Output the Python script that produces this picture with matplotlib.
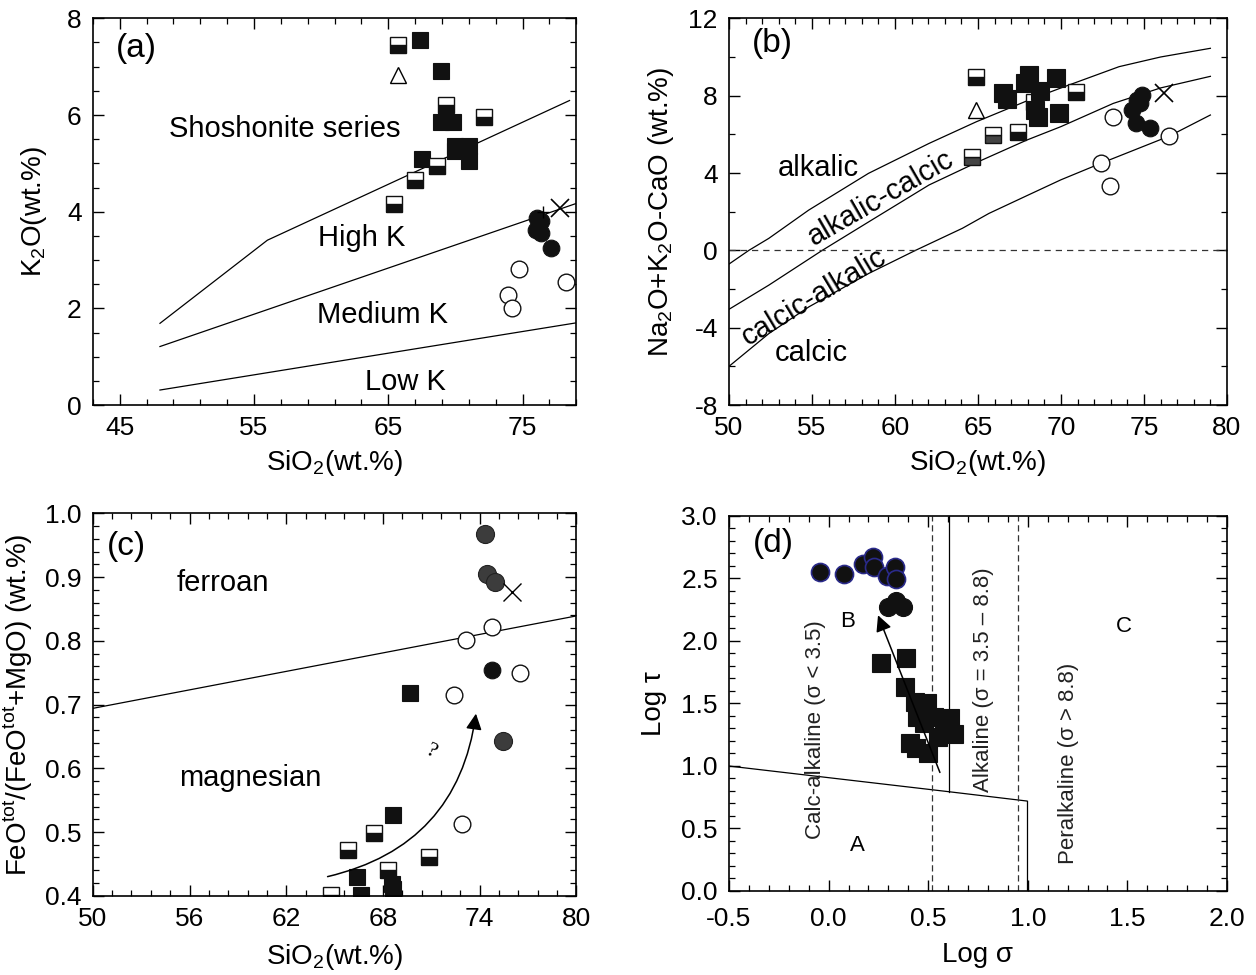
import matplotlib
matplotlib.use('Agg')
import numpy as np
import matplotlib.pyplot as plt
from matplotlib.ticker import FixedLocator, MultipleLocator, FormatStrFormatter

plt.rcParams['font.family'] = ['Liberation Sans', 'DejaVu Sans']
plt.rcParams['axes.unicode_minus'] = False
plt.rcParams['font.size'] = 19

# ---------------- (a) K2O vs SiO2 ----------------
a_half_x = [65.7, 69.3, 72.1, 67.0, 65.4, 68.6]
a_half_y = [7.45, 6.2, 5.95, 4.65, 4.15, 4.95]
a_sq_x = [67.4, 68.9, 68.9, 69.8, 70.0, 70.0, 71.0, 71.0, 67.5]
a_sq_y = [7.55, 6.9, 5.85, 5.85, 5.35, 5.25, 5.35, 5.05, 5.1]
a_tri_x, a_tri_y = [65.7], [6.82]
a_ci_x = [76.1, 76.4, 76.0, 76.4, 77.1]
a_ci_y = [3.86, 3.8, 3.62, 3.55, 3.24]
a_oc_x = [74.7, 73.9, 74.25, 78.2]
a_oc_y = [2.81, 2.28, 2.0, 2.55]
a_x_x, a_x_y = [77.8], [4.07]
a_plus_x, a_plus_y = [76.55], [4.0]

shosh_x = [48, 56, 78.5]
shosh_y = [1.69, 3.41, 6.30]
highk_x = [48, 79]
highk_y = [1.21, 4.17]
lowk_x = [48, 79]
lowk_y = [0.31, 1.70]

# ---------------- (b) MALI vs SiO2 ----------------
b_half_x = [64.88, 70.9, 67.43, 68.35]
b_half_y = [8.95, 8.2, 6.13, 7.69]
b_halfg_x = [65.89, 64.62]
b_halfg_y = [5.96, 4.84]
b_sq_x = [66.49, 66.73, 68.05, 67.85, 68.71, 69.71, 68.43, 68.63, 69.9]
b_sq_y = [8.15, 7.81, 9.07, 8.67, 8.25, 8.90, 7.26, 6.88, 7.09]
b_tri_x, b_tri_y = [64.88], [7.28]
b_ci_x = [74.87, 74.6, 74.27, 74.75, 74.5, 75.35]
b_ci_y = [8.03, 7.78, 7.26, 7.6, 6.57, 6.31]
b_oc_x = [73.13, 72.41, 72.94, 76.5]
b_oc_y = [6.91, 4.5, 3.33, 5.91]
b_x_x, b_x_y = [76.19], [8.16]

c1_x = [50, 51.2, 52.4, 54.8, 58.4, 62.05, 64.9, 68, 70, 73.5, 76, 79]
c1_y = [-0.71, 0.0, 0.62, 2.08, 3.98, 5.53, 6.65, 7.75, 8.4, 9.5, 10.0, 10.45]
c2_x = [50, 52.4, 55.62, 58.43, 62.05, 65.06, 67.93, 70, 73.15, 76, 79]
c2_y = [-3.05, -1.8, 0.0, 1.48, 3.38, 4.6, 5.7, 6.4, 7.6, 8.4, 9.0]
c3_x = [50, 52.41, 54.82, 58.43, 61.24, 64.06, 65.66, 68, 70, 72.4, 76.5, 79]
c3_y = [-6.0, -4.3, -2.92, -1.19, 0.0, 1.14, 1.91, 2.85, 3.65, 4.5, 5.9, 7.0]

# ---------------- (c) Fe-number vs SiO2 ----------------
c_sq_x = [69.66, 68.6, 66.37, 66.67, 68.54, 68.6]
c_sq_y = [0.7175, 0.527, 0.43, 0.401, 0.419, 0.411]
c_half_x = [65.82, 67.42, 68.29, 70.86, 64.8]
c_half_y = [0.472, 0.498, 0.44, 0.46, 0.401]
c_gci_x = [74.35, 74.47, 74.97, 75.47]
c_gci_y = [0.968, 0.905, 0.893, 0.642]
c_ci_x, c_ci_y = [74.77], [0.754]
c_oc_x = [73.15, 74.77, 76.51, 72.4, 72.9]
c_oc_y = [0.801, 0.822, 0.749, 0.715, 0.5125]
c_x_x, c_x_y = [76.0], [0.877]
fe_line_x = [50, 80]
fe_line_y = [0.694, 0.839]
c_arrow_start = (64.4, 0.429)
c_arrow_end = (73.8, 0.69)

# ---------------- (d) Log tau vs Log sigma ----------------
d_sq_x = [0.263, 0.388, 0.384, 0.432, 0.492, 0.444, 0.528, 0.478, 0.578, 0.608,
          0.628, 0.548, 0.408, 0.438, 0.498]
d_sq_y = [1.824, 1.859, 1.632, 1.512, 1.499, 1.392, 1.392, 1.339, 1.352, 1.379,
          1.251, 1.232, 1.184, 1.139, 1.104]
d_bci_x = [-0.043, 0.079, 0.171, 0.224, 0.228, 0.292, 0.333, 0.337]
d_bci_y = [2.552, 2.534, 2.614, 2.672, 2.592, 2.518, 2.587, 2.491]
d_ci_x = [0.30, 0.337, 0.372]
d_ci_y = [2.27, 2.32, 2.27]
ab_x = [-0.5, 0.602, 0.996]
ab_y = [0.997, 0.792, 0.717]
bc_x = [0.602, 0.602]
bc_y = [0.792, 3.0]
ac_x = [0.996, 0.996]
ac_y = [0.717, 0.0]
dash1_x = 0.52
dash2_x = 0.95
d_arrow_start = (0.564, 0.925)
d_arrow_end = (0.243, 2.224)

fig = plt.figure(figsize=(12.56, 9.75), dpi=100)
axa = fig.add_axes([0.0739, 0.5846, 0.3849, 0.3966])
axb = fig.add_axes([0.5804, 0.5846, 0.3965, 0.3966])
axc = fig.add_axes([0.0739, 0.0813, 0.3849, 0.3922])
axd = fig.add_axes([0.5804, 0.0865, 0.3965, 0.3846])


def style(ax, xpad=8):
    ax.tick_params(which='both', direction='in', top=True, right=True,
                   labelsize=19, pad=8)
    ax.tick_params(axis='x', which='both', pad=xpad)
    ax.tick_params(which='major', length=8, width=1.0)
    ax.tick_params(which='minor', length=4.5, width=0.9)
    for s in ax.spines.values():
        s.set_linewidth(1.2)


half = dict(marker='s', fillstyle='bottom', mfc='#111111', mfcalt='white',
            mec='#111111', mew=1.0, ls='none')
sq = dict(marker='s', mfc='#111111', mec='#111111', mew=0.8, ls='none')
ci = dict(marker='o', mfc='#111111', mec='#111111', mew=0.8, ls='none')
oc = dict(marker='o', mfc='white', mec='#111111', mew=1.0, ls='none')
FS = 21

# (a)
ax = axa
ax.plot(shosh_x, shosh_y, color='k', lw=0.9)
ax.plot(highk_x, highk_y, color='k', lw=0.9)
ax.plot(lowk_x, lowk_y, color='k', lw=0.9)
ax.plot(a_sq_x, a_sq_y, ms=11, **sq)
ax.plot(a_half_x, a_half_y, ms=11, **half)
ax.plot(a_tri_x, a_tri_y, marker='^', ms=12, mfc='white', mec='k', mew=1, ls='none')
ax.plot(a_ci_x, a_ci_y, ms=12, **ci)
ax.plot(a_oc_x, a_oc_y, ms=12, **oc)
ax.plot(a_x_x, a_x_y, marker='x', ms=13, color='k', mew=1.2, ls='none')
ax.plot(a_plus_x, a_plus_y, marker='+', ms=9, color='k', mew=1.0, ls='none')
ax.set_xlim(43, 79)
ax.set_ylim(0, 8)
ax.xaxis.set_major_locator(FixedLocator([45, 55, 65, 75]))
ax.xaxis.set_minor_locator(FixedLocator(np.arange(43, 80, 2)))
ax.yaxis.set_major_locator(MultipleLocator(2))
ax.yaxis.set_minor_locator(MultipleLocator(0.5))
ax.text(46.25, 7.38, '(a)', fontsize=24, ha='center', va='center')
ax.text(57.3, 5.72, 'Shoshonite series', fontsize=FS, ha='center', va='center')
ax.text(63.0, 3.45, 'High K', fontsize=FS, ha='center', va='center')
ax.text(64.6, 1.86, 'Medium K', fontsize=FS, ha='center', va='center')
ax.text(66.25, 0.48, 'Low K', fontsize=FS, ha='center', va='center')
ax.set_xlabel(r'SiO$_\mathregular{2}$(wt.%)', fontsize=20, labelpad=6)
ax.set_ylabel(r'K$_\mathregular{2}$O(wt.%)', fontsize=20, labelpad=13)
style(ax)

# (b)
ax = axb
ax.plot(c1_x, c1_y, color='k', lw=0.9)
ax.plot(c2_x, c2_y, color='k', lw=0.9)
ax.plot(c3_x, c3_y, color='k', lw=0.9)
ax.axhline(0, color='#333333', lw=0.9, ls=(0, (5, 4)))
ax.plot(b_half_x, b_half_y, ms=12, **half)
ax.plot(b_halfg_x, b_halfg_y, ms=12, **dict(half, mfc='#444444'))
ax.plot(b_sq_x, b_sq_y, ms=13, **sq)
ax.plot(b_tri_x, b_tri_y, marker='^', ms=12, mfc='white', mec='k', mew=1, ls='none')
ax.plot(b_oc_x, b_oc_y, ms=12, **oc)
ax.plot(b_ci_x, b_ci_y, ms=12, **ci)
ax.plot(b_x_x, b_x_y, marker='x', ms=13, color='k', mew=1.2, ls='none')
ax.set_xlim(50, 80)
ax.set_ylim(-8, 12)
ax.xaxis.set_major_locator(MultipleLocator(5))
ax.xaxis.set_minor_locator(MultipleLocator(1))
ax.yaxis.set_major_locator(MultipleLocator(4))
ax.yaxis.set_minor_locator(MultipleLocator(2))
ax.text(52.6, 10.7, '(b)', fontsize=24, ha='center', va='center')
ax.text(55.4, 4.24, 'alkalic', fontsize=FS, ha='center', va='center')
ax.text(59.14, 2.69, 'alkalic-calcic', fontsize=FS, ha='center', va='center',
        rotation=30)
ax.text(55.14, -2.4, 'calcic-alkalic', fontsize=FS, ha='center', va='center',
        rotation=31)
ax.text(54.94, -5.33, 'calcic', fontsize=FS, ha='center', va='center')
ax.set_xlabel(r'SiO$_\mathregular{2}$(wt.%)', fontsize=20, labelpad=6)
ax.set_ylabel(r'Na$_\mathregular{2}$O+K$_\mathregular{2}$O-CaO (wt.%)', fontsize=20,
              labelpad=9)
style(ax)

# (c)
ax = axc
ax.plot(fe_line_x, fe_line_y, color='k', lw=0.9)
ax.annotate('', xy=c_arrow_end, xytext=c_arrow_start,
            arrowprops=dict(arrowstyle='-|>', connectionstyle='arc3,rad=0.35',
                            color='k', lw=1.1, mutation_scale=24))
ax.plot(c_half_x, c_half_y, ms=12, **half)
ax.plot(c_sq_x, c_sq_y, ms=12, **sq)
ax.plot(c_oc_x, c_oc_y, ms=12, **oc)
ax.plot(c_gci_x, c_gci_y, marker='o', ms=13, mfc='#3c3c3c', mec='#222222',
        mew=0.8, ls='none')
ax.plot(c_ci_x, c_ci_y, ms=12, **ci)
ax.plot(c_x_x, c_x_y, marker='x', ms=13, color='k', mew=1.0, ls='none')
ax.set_xlim(50, 80)
ax.set_ylim(0.4, 1.0)
ax.xaxis.set_major_locator(FixedLocator([50, 56, 62, 68, 74, 80]))
ax.xaxis.set_minor_locator(FixedLocator(np.arange(50, 80.01, 1.2)))
ax.yaxis.set_major_locator(MultipleLocator(0.1))
ax.yaxis.set_minor_locator(MultipleLocator(0.02))
ax.yaxis.set_major_formatter(FormatStrFormatter('%.1f'))
ax.text(52.1, 0.948, '(c)', fontsize=24, ha='center', va='center')
ax.text(58.1, 0.89, 'ferroan', fontsize=FS, ha='center', va='center')
ax.text(59.8, 0.584, 'magnesian', fontsize=FS, ha='center', va='center')
ax.text(71.0, 0.626, '?', fontsize=16, ha='center', va='center', rotation=-25,
        family=['Liberation Serif', 'DejaVu Serif'])
ax.set_xlabel(r'SiO$_\mathregular{2}$(wt.%)', fontsize=20, labelpad=8)
ax.set_ylabel(r'FeO$^\mathregular{tot}$/(FeO$^\mathregular{tot}$+MgO) (wt.%)',
              fontsize=20, labelpad=7)
style(ax)

# (d)
ax = axd
ax.plot(ab_x, ab_y, color='k', lw=0.9)
ax.plot(bc_x, bc_y, color='k', lw=0.9)
ax.plot(ac_x, ac_y, color='k', lw=0.9)
ax.axvline(dash1_x, color='#333333', lw=0.9, ls=(0, (5, 3)))
ax.axvline(dash2_x, color='#333333', lw=0.9, ls=(0, (5, 3)))
ax.plot(d_sq_x, d_sq_y, ms=12.5, **sq)
ax.annotate('', xy=d_arrow_end, xytext=d_arrow_start,
            arrowprops=dict(arrowstyle='-|>', color='k', lw=1.1, mutation_scale=24))
ax.plot(d_ci_x, d_ci_y, ms=13, **ci)
for x, y in zip(d_bci_x, d_bci_y):
    ax.plot(x, y, marker='o', ms=13, mfc='#111111', mec='#2a2a8a', mew=1.2, ls='none')
ax.set_xlim(-0.5, 2.0)
ax.set_ylim(0, 3)
ax.xaxis.set_major_locator(MultipleLocator(0.5))
ax.xaxis.set_minor_locator(MultipleLocator(0.1))
ax.yaxis.set_major_locator(MultipleLocator(0.5))
ax.yaxis.set_minor_locator(MultipleLocator(0.1))
ax.xaxis.set_major_formatter(FormatStrFormatter('%.1f'))
ax.yaxis.set_major_formatter(FormatStrFormatter('%.1f'))
ax.text(-0.275, 2.779, '(d)', fontsize=24, ha='center', va='center')
ax.text(0.096, 2.152, 'B', fontsize=16, ha='center', va='center')
ax.text(0.147, 0.365, 'A', fontsize=16, ha='center', va='center')
ax.text(1.482, 2.112, 'C', fontsize=16, ha='center', va='center')
ax.text(-0.064, 1.285, 'Calc-alkaline (σ < 3.5)', fontsize=16, rotation=90,
        ha='center', va='center', color='#222222')
ax.text(0.779, 1.685, 'Alkaline (σ = 3.5 – 8.8)', fontsize=16, rotation=90,
        ha='center', va='center', color='#222222')
ax.text(1.205, 1.019, 'Peralkaline (σ > 8.8)', fontsize=16, rotation=90,
        ha='center', va='center', color='#222222')
ax.set_xlabel('Log σ', fontsize=20, labelpad=8)
ax.set_ylabel('Log τ', fontsize=20, labelpad=10)
style(ax, xpad=12)

fig.savefig('out.png', dpi=100)
